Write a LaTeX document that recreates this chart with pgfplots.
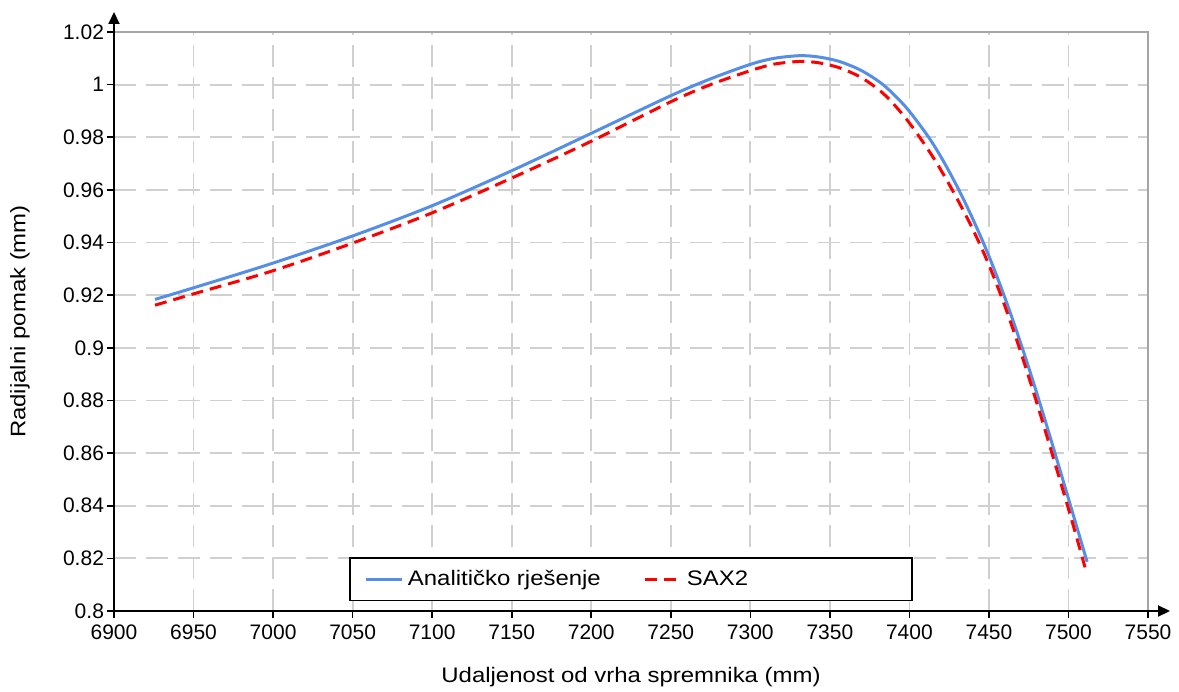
\documentclass[border=0pt]{standalone}
\usepackage{fontspec}
\setmainfont{Liberation Sans}
\newfontfamily\labelfont{Liberation Sans}[FakeStretch=1.14]
\usepackage{pgfplots}
\pgfplotsset{compat=1.18}
\usetikzlibrary{arrows.meta,calc}
\definecolor{blueline}{RGB}{85,142,230}
\definecolor{gridc}{RGB}{208,208,208}
\definecolor{boxc}{RGB}{165,165,165}
\begin{document}
\begin{tikzpicture}
\begin{axis}[
  scale only axis, width=517pt, height=289.5pt,
  xmin=6900, xmax=7550, ymin=0.8, ymax=1.02,
  xtick={6900,6950,7000,7050,7100,7150,7200,7250,7300,7350,7400,7450,7500,7550},
  ytick={0.8,0.82,0.84,0.86,0.88,0.9,0.92,0.94,0.96,0.98,1,1.02},
  yticklabels={0.8,0.82,0.84,0.86,0.88,0.9,0.92,0.94,0.96,0.98,1,1.02},
  scaled ticks=false,
  xticklabel style={/pgf/number format/.cd, fixed, 1000 sep={}},
  yticklabel style={xshift=2pt},
  axis lines=left,
  axis line style={line width=1pt, black, -},
  every outer x axis line/.append style={-},
  every outer y axis line/.append style={-},
  tick align=outside, major tick length=3.5pt,
  tick style={black, line width=0.8pt},
  grid=major, grid style={gridc, line width=0.9pt, dash pattern=on 11pt off 5pt},
  font=\fontsize{10.5}{12.5}\selectfont,
  /pgf/number format/assume math mode=true,
  xlabel={\labelfont Udaljenost od vrha spremnika (mm)},
  ylabel={\labelfont Radijalni pomak (mm)},
  xlabel style={at={(axis description cs:0.5,-0.114)}, anchor=center},
  ylabel style={at={(axis description cs:-0.091,0.5)}, anchor=center},
  legend columns=2,
  legend style={at={(axis description cs:0.5,0.017)}, anchor=south, draw=black, line width=0.8pt,
    inner xsep=7.5pt, inner ysep=4pt, font=\fontsize{10.5}{12.5}\selectfont\labelfont,
    /tikz/every even column/.append style={column sep=19.5pt}},
  legend image code/.code={\draw[#1] (0pt,0pt) -- (18pt,0pt);},
]
\addplot[blueline, line width=1.5pt, smooth] coordinates {
(6925.8,0.9184) (6950,0.9228) (7000,0.9322) (7050,0.9425) (7100,0.9540)
(7150,0.9673) (7200,0.9815) (7250,0.9958) (7275,1.0022) (7300,1.0077)
(7315,1.0100) (7331,1.0110) (7343,1.0105) (7356,1.0088) (7370,1.0053)
(7384,0.9997) (7398,0.9913) (7412,0.9801) (7421.5,0.9708) (7431,0.9601)
(7439,0.9501) (7446.5,0.9399) (7453,0.9303) (7459.5,0.9199) (7465,0.9106)
(7471,0.8999) (7476,0.8906) (7481.5,0.8800) (7486.5,0.8701) (7491.5,0.8600)
(7501.3,0.8400) (7511.7,0.8187)
};
\addlegendentry{Analitičko rješenje}
\addplot[red, line width=1.5pt, smooth, dash pattern=on 6pt off 3.5pt] coordinates {
(6925.8,0.9162) (6950,0.9205) (7000,0.9293) (7050,0.9398) (7100,0.9513)
(7150,0.9645) (7200,0.9785) (7250,0.9935) (7275,1.0000) (7300,1.0053)
(7315,1.0078) (7331,1.0088) (7343,1.0083) (7356,1.0064) (7370,1.0026)
(7384,0.9964) (7398,0.9870) (7412,0.9751) (7421.5,0.9658) (7431,0.9555)
(7439,0.9461) (7446.5,0.9364) (7453,0.9270) (7459.5,0.9167) (7465,0.9073)
(7471,0.8965) (7476,0.8870) (7481.5,0.8763) (7486.5,0.8663) (7491.5,0.8561)
(7501.3,0.8361) (7510.4,0.8166)
};
\addlegendentry{SAX2\hspace*{72.5pt}}
\end{axis}
\draw[boxc, line width=1pt] (current axis.north west) -- (current axis.north east) -- (current axis.south east);
\draw[black, line width=1pt, -{Triangle[width=5.5pt,length=6pt]}] (current axis.south west) -- ($(current axis.north west)+(0,10pt)$);
\draw[black, line width=1pt, -{Triangle[width=5.5pt,length=6pt]}] (current axis.south west) -- ($(current axis.south east)+(11pt,0)$);
\pgfresetboundingbox
\path[use as bounding box] ($(current axis.south west)+(-57pt,-40pt)$) rectangle ($(current axis.north east)+(15.5pt,16pt)$);
\end{tikzpicture}
\end{document}
